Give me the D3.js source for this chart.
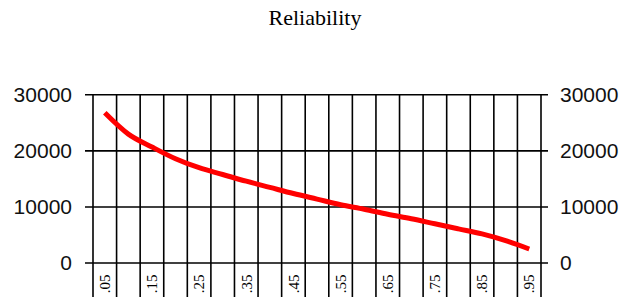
<!DOCTYPE html>
<html>
<head>
<meta charset="utf-8">
<script src="https://cdn.jsdelivr.net/npm/d3@7"></script>
<style>
  html, body { margin: 0; padding: 0; background: #fff; }
  svg { display: block; }
</style>
</head>
<body>
<svg id="chart" width="621" height="297"></svg>
<script>
const title = "Reliability";
const categories = [".05",".10",".15",".20",".25",".30",".35",".40",".45",".50",
                    ".55",".60",".65",".70",".75",".80",".85",".90",".95"];
const values = [26700, 22900, 20600, 18500, 16900, 15700, 14500, 13400, 12300, 11300,
                10300, 9500, 8600, 7800, 6900, 6000, 5100, 3900, 2400];
const yTicks = [0, 10000, 20000, 30000];

(function () {
const svg = d3.select("#chart");
const plotLeft = 93, plotRight = 541, plotTop = 94.3, plotBottom = 262.5;

const x = d3.scaleBand().domain(categories).range([plotLeft, plotRight]).padding(0);
const y = d3.scaleLinear().domain([0, 30000]).range([plotBottom, plotTop]);

// Title
svg.append("text")
  .attr("x", 315).attr("y", 25)
  .attr("text-anchor", "middle")
  .attr("font-family", "'Liberation Serif', 'Times New Roman', serif")
  .attr("font-size", 22)
  .attr("fill", "#000")
  .text(title);

// Horizontal gridlines + left labels
const gl = svg.append("g").attr("transform", `translate(${plotRight + 7},0)`)
  .call(d3.axisLeft(y).tickValues(yTicks).tickSize(plotRight + 7 - 85).tickPadding(13).tickFormat(d3.format("d")));
gl.select(".domain").remove();
gl.selectAll("line").attr("stroke", "#000").attr("stroke-width", 1.6);
gl.selectAll("text").attr("font-family", "'Liberation Sans', Arial, sans-serif").attr("font-size", 21).attr("fill", "#111");

// Right labels
const gr = svg.append("g").attr("transform", `translate(${plotRight + 7},0)`)
  .call(d3.axisRight(y).tickValues(yTicks).tickSize(0).tickPadding(12).tickFormat(d3.format("d")));
gr.select(".domain").remove();
gr.selectAll("text").attr("font-family", "'Liberation Sans', Arial, sans-serif").attr("font-size", 21).attr("fill", "#111");

// Vertical gridlines at category boundaries
const bounds = categories.map(c => x(c)).concat([x(categories[categories.length - 1]) + x.bandwidth()]);
svg.append("g").selectAll("line").data(bounds).join("line")
  .attr("x1", d => d).attr("x2", d => d)
  .attr("y1", plotTop).attr("y2", 300)
  .attr("stroke", "#000").attr("stroke-width", 1.6);

// Rotated category labels, every other one
svg.append("g").selectAll("text").data(categories.filter((c, i) => i % 2 === 0)).join("text")
  .attr("transform", d => `translate(${x(d) + x.bandwidth() / 2},${plotBottom + 12}) rotate(-90)`)
  .attr("text-anchor", "end")
  .attr("dy", "0.35em")
  .attr("font-family", "'Liberation Serif', 'Times New Roman', serif")
  .attr("font-size", 15)
  .attr("fill", "#000")
  .text(d => d);

// Series line
const line = d3.line()
  .x((d, i) => x(categories[i]) + x.bandwidth() / 2)
  .y(d => y(d))
  .curve(d3.curveMonotoneX);
svg.append("path")
  .datum(values)
  .attr("d", line)
  .attr("fill", "none")
  .attr("stroke", "#ff0000")
  .attr("stroke-width", 5)
  .attr("stroke-linejoin", "round");
})();
</script>
</body>
</html>
